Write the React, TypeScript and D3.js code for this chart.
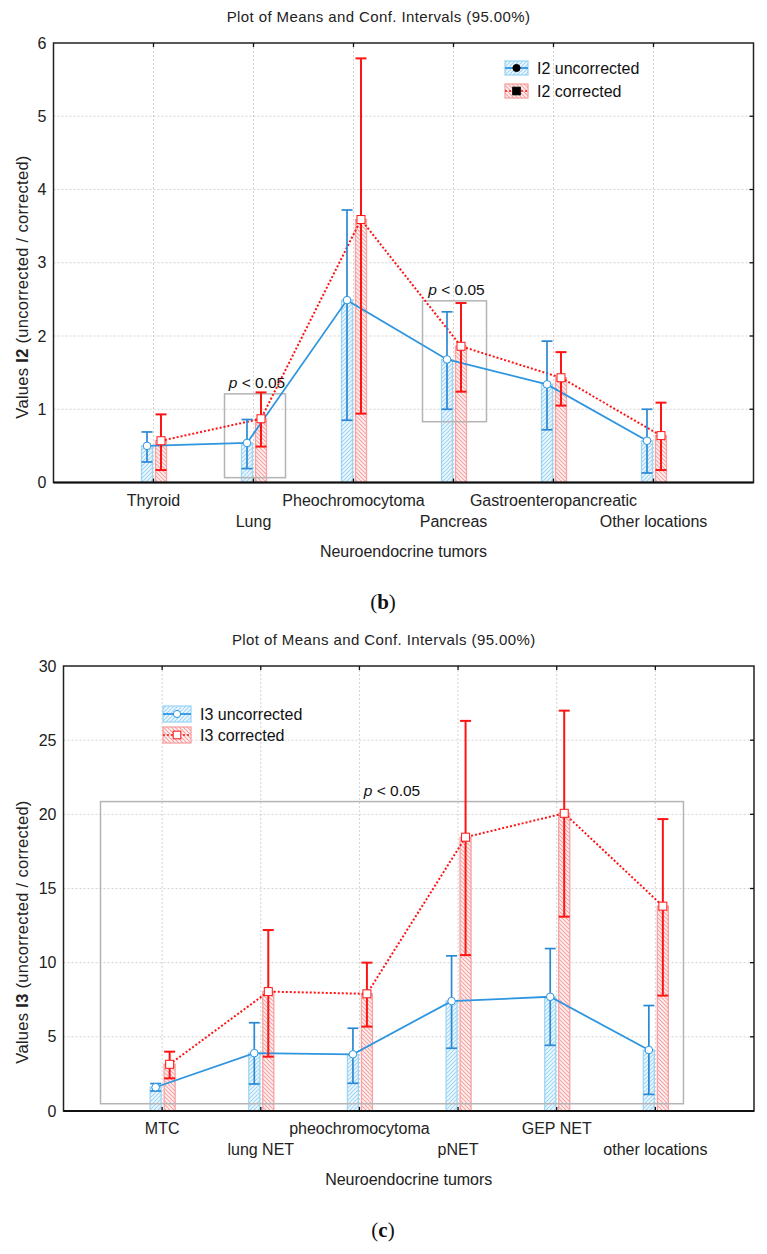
import React from 'react';
import * as d3 from 'd3';

// panel (b) - I2
const catsB = ['Thyroid', 'Lung', 'Pheochromocytoma', 'Pancreas', 'Gastroenteropancreatic', 'Other locations'];
const i2UncMean = [0.5, 0.54, 2.49, 1.68, 1.34, 0.57];
const i2UncLow = [0.28, 0.19, 0.85, 1.0, 0.72, 0.13];
const i2UncHigh = [0.69, 0.86, 3.72, 2.33, 1.93, 1.0];
const i2CorMean = [0.57, 0.87, 3.59, 1.86, 1.43, 0.64];
const i2CorLow = [0.17, 0.49, 0.94, 1.24, 1.05, 0.17];
const i2CorHigh = [0.93, 1.23, 5.79, 2.45, 1.78, 1.09];
const i2Ticks = [0, 1, 2, 3, 4, 5, 6];
// significance boxes: category index range, value range
const i2Boxes = [
  { i0: 0.71, i1: 1.32, v0: 0.066, v1: 1.21 },
  { i0: 2.69, i1: 3.33, v0: 0.83, v1: 2.48 },
];

// panel (c) - I3
const catsC = ['MTC', 'lung NET', 'pheochromocytoma', 'pNET', 'GEP NET', 'other locations'];
const i3UncMean = [1.6, 3.9, 3.82, 7.41, 7.7, 4.11];
const i3UncLow = [1.35, 1.82, 1.87, 4.23, 4.43, 1.12];
const i3UncHigh = [1.85, 5.95, 5.58, 10.46, 10.95, 7.11];
const i3CorMean = [3.15, 8.05, 7.9, 18.46, 20.07, 13.81];
const i3CorLow = [2.2, 3.66, 5.69, 10.51, 13.1, 7.78];
const i3CorHigh = [4.0, 12.2, 10.0, 26.3, 26.99, 19.68];
const i3Ticks = [0, 5, 10, 15, 20, 25, 30];
const i3Boxes = [{ i0: -0.625, i1: 5.285, v0: 0.49, v1: 20.86 }];

const FONT = '"Liberation Sans", Arial, sans-serif';
const BLUE = '#2e95e0';
const BLUE_ERR = '#2b88d4';
const BLUE_BAR = '#9dd6f4';
const RED = '#ff1414';
const RED_BAR = '#f6a2a2';

type ChartProps = {
  id: string;
  left: number; right: number; top: number; bottom: number;
  cats: string[];
  uncMean: number[]; uncLow: number[]; uncHigh: number[];
  corMean: number[]; corLow: number[]; corHigh: number[];
  ticks: number[];
  metric: string;
  boxes: { i0: number; i1: number; v0: number; v1: number }[];
  legend: { x: number; y: number; w: number; h: number; gap: number; filled: boolean };
  labelY: number;
  panel: string;
};

const Chart = (p: ChartProps) => {
  const x = d3.scaleLinear().domain([-1, p.cats.length]).range([p.left, p.right]);
  const y = d3.scaleLinear().domain([0, d3.max(p.ticks) as number]).range([p.bottom, p.top]);
  const idx = p.cats.map((_, i) => i);
  const bOff = -6.5, rOff = 7.5, bw = 11, cap = 5.5;

  const blueLine = d3.line<number>().x((i) => x(i) + bOff).y((i) => y(p.uncMean[i]))(idx) as string;
  const redLine = d3.line<number>().x((i) => x(i) + rOff).y((i) => y(p.corMean[i]))(idx) as string;
  const cx = (p.left + p.right) / 2;
  const lg = p.legend;

  return (
    <g>
      <defs>
        <pattern id={`hb-${p.id}`} patternUnits="userSpaceOnUse" width={4} height={4}>
          <rect width={4} height={4} fill="#f1f9fe" />
          <path d="M-1,1 l2,-2 M0,4 l4,-4 M3,5 l2,-2" stroke={BLUE_BAR} strokeWidth={1.1} />
        </pattern>
        <pattern id={`hr-${p.id}`} patternUnits="userSpaceOnUse" width={4} height={4}>
          <rect width={4} height={4} fill="#fef2f2" />
          <path d="M-1,3 l2,2 M0,0 l4,4 M3,-1 l2,2" stroke={RED_BAR} strokeWidth={1.1} />
        </pattern>
      </defs>

      <text x={cx - 25} y={p.top - 21} textAnchor="middle" fontFamily={FONT} fontSize={15} letterSpacing={0.4} fill="#222">
        Plot of Means and Conf. Intervals (95.00%)
      </text>

      {/* grid */}
      {p.ticks.slice(1, -1).map((t) => (
        <line key={`gy${t}`} x1={p.left} x2={p.right} y1={y(t)} y2={y(t)} stroke="#c8c8c8" strokeWidth={0.8} strokeDasharray="2,2" />
      ))}
      {idx.map((i) => (
        <line key={`gx${i}`} x1={x(i)} x2={x(i)} y1={p.top} y2={p.bottom} stroke="#c8c8c8" strokeWidth={0.8} strokeDasharray="2,2" />
      ))}

      {/* bars */}
      {idx.map((i) => (
        <g key={`bar${i}`}>
          <rect x={x(i) - 12} y={y(p.uncMean[i])} width={bw} height={y(0) - y(p.uncMean[i])} fill={`url(#hb-${p.id})`} stroke={BLUE_BAR} strokeWidth={1.3} />
          <rect x={x(i) + 2} y={y(p.corMean[i])} width={bw} height={y(0) - y(p.corMean[i])} fill={`url(#hr-${p.id})`} stroke={RED_BAR} strokeWidth={1.3} />
        </g>
      ))}

      {/* significance boxes */}
      {p.boxes.map((b, k) => (
        <g key={`box${k}`}>
          <rect x={x(b.i0)} y={y(b.v1)} width={x(b.i1) - x(b.i0)} height={y(b.v0) - y(b.v1)} fill="none" stroke="#b4b4b4" strokeWidth={1.5} />
          <text x={(x(b.i0) + x(b.i1)) / 2 + (p.boxes.length === 1 ? 0 : 2)} y={y(b.v1) - 6} textAnchor="middle" fontFamily={FONT} fontSize={15.5} fill="#111">
            <tspan fontStyle="italic">p</tspan> &lt; 0.05
          </text>
        </g>
      ))}

      {/* mean lines */}
      <path d={blueLine} fill="none" stroke={BLUE} strokeWidth={1.8} />
      <path d={redLine} fill="none" stroke={RED} strokeWidth={2} strokeDasharray="2,2" />

      {/* error bars */}
      {idx.map((i) => {
        const bx = x(i) + bOff, rx = x(i) + rOff;
        return (
          <g key={`err${i}`}>
            <g stroke={BLUE_ERR} strokeWidth={1.7}>
              <line x1={bx} x2={bx} y1={y(p.uncLow[i])} y2={y(p.uncHigh[i])} />
              <line x1={bx - cap} x2={bx + cap} y1={y(p.uncLow[i])} y2={y(p.uncLow[i])} />
              <line x1={bx - cap} x2={bx + cap} y1={y(p.uncHigh[i])} y2={y(p.uncHigh[i])} />
            </g>
            <g stroke={RED} strokeWidth={2}>
              <line x1={rx} x2={rx} y1={y(p.corLow[i])} y2={y(p.corHigh[i])} />
              <line x1={rx - cap} x2={rx + cap} y1={y(p.corLow[i])} y2={y(p.corLow[i])} />
              <line x1={rx - cap} x2={rx + cap} y1={y(p.corHigh[i])} y2={y(p.corHigh[i])} />
            </g>
          </g>
        );
      })}

      {/* markers */}
      {idx.map((i) => (
        <g key={`mk${i}`}>
          <circle cx={x(i) + bOff} cy={y(p.uncMean[i])} r={3.8} fill="#fff" stroke={BLUE} strokeWidth={1} />
          <rect x={x(i) + rOff - 4} y={y(p.corMean[i]) - 4} width={8} height={8} fill="#fff" stroke={RED} strokeWidth={1} />
        </g>
      ))}

      {/* frame */}
      <rect x={p.left} y={p.top} width={p.right - p.left} height={p.bottom - p.top} fill="none" stroke="#222" strokeWidth={1.5} />
      <line x1={p.left} x2={p.right} y1={p.bottom} y2={p.bottom} stroke="#111" strokeWidth={2} />
      {idx.map((i) => (
        <g key={`tk${i}`} stroke="#111" strokeWidth={1.3}>
          <line x1={x(i)} x2={x(i)} y1={p.bottom} y2={p.bottom - 4} />
          <line x1={x(i)} x2={x(i)} y1={p.top} y2={p.top + 4} />
        </g>
      ))}
      {p.ticks.slice(1, -1).map((t) => (
        <line key={`ty${t}`} x1={p.right} x2={p.right - 4} y1={y(t)} y2={y(t)} stroke="#111" strokeWidth={1.3} />
      ))}

      {/* y tick labels */}
      {p.ticks.map((t) => (
        <text key={`yl${t}`} x={p.left - 7} y={y(t)} dy="0.35em" textAnchor="end" fontFamily={FONT} fontSize={16} fill="#222">
          {t}
        </text>
      ))}

      {/* x labels, staggered */}
      {p.cats.map((c, i) => (
        <text key={`xl${i}`} x={x(i)} y={p.bottom + (i % 2 === 0 ? 23 : 44)} textAnchor="middle" fontFamily={FONT} fontSize={16} fill="#222">
          {c}
        </text>
      ))}
      <text x={cx} y={p.bottom + 74} textAnchor="middle" fontFamily={FONT} fontSize={16} fill="#222">
        Neuroendocrine tumors
      </text>

      <text transform={`translate(22,${p.labelY}) rotate(-90)`} textAnchor="middle" dy="0.35em" fontFamily={FONT} fontSize={16.5} letterSpacing={0.3} fill="#222">
        Values <tspan fontWeight="bold">{p.metric}</tspan> (uncorrected / corrected)
      </text>

      {/* legend */}
      <g>
        <rect x={lg.x} y={lg.y} width={lg.w} height={lg.h} fill={`url(#hb-${p.id})`} stroke={BLUE_BAR} strokeWidth={1.3} />
        <line x1={lg.x} x2={lg.x + lg.w} y1={lg.y + lg.h / 2} y2={lg.y + lg.h / 2} stroke={BLUE} strokeWidth={1.8} />
        <circle cx={lg.x + lg.w / 2} cy={lg.y + lg.h / 2} r={3.6} fill={lg.filled ? '#000' : '#fff'} stroke={lg.filled ? '#000' : BLUE} strokeWidth={1} />
        <text x={lg.x + lg.w + 9} y={lg.y + lg.h / 2} dy="0.35em" fontFamily={FONT} fontSize={16} fill="#111">
          {p.metric} uncorrected
        </text>
        <rect x={lg.x} y={lg.y + lg.gap} width={lg.w} height={lg.h} fill={`url(#hr-${p.id})`} stroke={RED_BAR} strokeWidth={1.3} />
        <line x1={lg.x} x2={lg.x + lg.w} y1={lg.y + lg.gap + lg.h / 2} y2={lg.y + lg.gap + lg.h / 2} stroke={RED} strokeWidth={1.5} strokeDasharray="2,2" />
        <rect x={lg.x + lg.w / 2 - 3.8} y={lg.y + lg.gap + lg.h / 2 - 3.8} width={7.6} height={7.6} fill={lg.filled ? '#000' : '#fff'} stroke={lg.filled ? '#000' : RED} strokeWidth={1} />
        <text x={lg.x + lg.w + 9} y={lg.y + lg.gap + lg.h / 2} dy="0.35em" fontFamily={FONT} fontSize={16} fill="#111">
          {p.metric} corrected
        </text>
      </g>

      <text x={383} y={p.bottom + 126} textAnchor="middle" fontFamily='"Liberation Serif", "Times New Roman", serif' fontSize={21} fill="#111">
        (<tspan fontWeight="bold">{p.panel}</tspan>)
      </text>
    </g>
  );
};

const App = () => {
  return (
    <svg width={767} height={1254} style={{ position: 'absolute', left: 0, top: 0, background: '#fff' }}>
      <Chart
        id="b"
        left={53.5} right={753.5} top={43} bottom={482.5}
        cats={catsB}
        uncMean={i2UncMean} uncLow={i2UncLow} uncHigh={i2UncHigh}
        corMean={i2CorMean} corLow={i2CorLow} corHigh={i2CorHigh}
        ticks={i2Ticks}
        metric="I2"
        boxes={i2Boxes}
        legend={{ x: 505, y: 61, w: 23, h: 14, gap: 23, filled: true }}
        labelY={287}
        panel="b"
      />
      <Chart
        id="c"
        left={63.5} right={754} top={666} bottom={1111}
        cats={catsC}
        uncMean={i3UncMean} uncLow={i3UncLow} uncHigh={i3UncHigh}
        corMean={i3CorMean} corLow={i3CorLow} corHigh={i3CorHigh}
        ticks={i3Ticks}
        metric="I3"
        boxes={i3Boxes}
        legend={{ x: 163, y: 706, w: 28, h: 16, gap: 21, filled: false }}
        labelY={932}
        panel="c"
      />
    </svg>
  );
};

export default App;
